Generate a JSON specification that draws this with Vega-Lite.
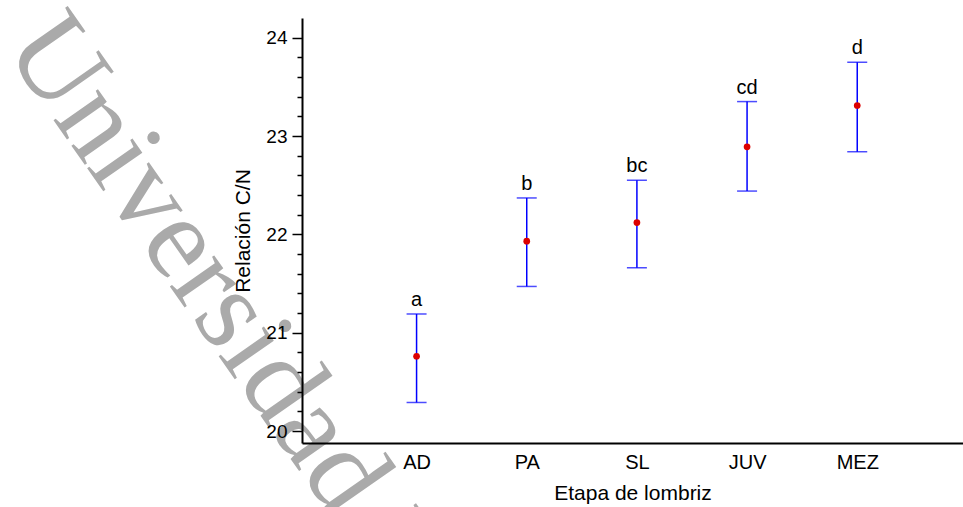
{
  "$schema": "https://vega.github.io/schema/vega-lite/v6.json",
  "autosize": {"type": "none"},
  "padding": {"left": 302, "top": 18, "right": 0, "bottom": 64},
  "width": 661,
  "height": 425,
  "background": "white",
  "title": {
    "text": "Universidad Nacional",
    "orient": "bottom",
    "anchor": "start",
    "frame": "group",
    "angle": 55,
    "align": "left",
    "baseline": "alphabetic",
    "offset": 0,
    "dx": -544,
    "dy": -16,
    "font": "Liberation Serif",
    "fontSize": 118,
    "fontWeight": "normal",
    "color": "#aaaaaa",
    "zindex": 0
  },
  "data": {
    "values": [
      {"etapa": "AD", "media": 20.76, "inf": 20.29, "sup": 21.19, "letra": "a"},
      {"etapa": "PA", "media": 21.93, "inf": 21.47, "sup": 22.37, "letra": "b"},
      {"etapa": "SL", "media": 22.12, "inf": 21.66, "sup": 22.55, "letra": "bc"},
      {"etapa": "JUV", "media": 22.89, "inf": 22.44, "sup": 23.35, "letra": "cd"},
      {"etapa": "MEZ", "media": 23.31, "inf": 22.84, "sup": 23.75, "letra": "d"}
    ]
  },
  "config": {
    "view": {"stroke": null},
    "axis": {
      "domainColor": "black",
      "domainWidth": 2,
      "labelFont": "Liberation Sans",
      "titleFont": "Liberation Sans",
      "labelColor": "black",
      "titleColor": "black",
      "titleFontWeight": "normal",
      "tickColor": "black",
      "grid": false,
      "zindex": 1
    }
  },
  "encoding": {
    "x": {
      "field": "etapa",
      "type": "ordinal",
      "sort": ["AD", "PA", "SL", "JUV", "MEZ"],
      "scale": {"type": "point", "padding": 1.155, "align": 0.52},
      "axis": {
        "title": "Etapa de lombriz",
        "labelAngle": 0,
        "ticks": false,
        "labelFontSize": 20,
        "labelPadding": 9,
        "titleFontSize": 21,
        "titlePadding": 10,
        "zindex": 1
      }
    }
  },
  "layer": [
    {
      "mark": {"type": "rule", "color": "#0000ff", "strokeWidth": 1.5},
      "encoding": {
        "y": {
          "field": "inf",
          "type": "quantitative",
          "scale": {"domain": [19.878, 24.2], "nice": false, "zero": false},
          "axis": {
            "title": "Relación C/N",
            "values": [20, 20.2, 20.4, 20.6, 20.8, 21, 21.2, 21.4, 21.6, 21.8, 22, 22.2, 22.4, 22.6, 22.8, 23, 23.2, 23.4, 23.6, 23.8, 24],
            "tickCount": 40,
            "labelExpr": "abs(round(datum.value) - datum.value) < 0.01 ? format(datum.value, 'd') : ''",
            "labelOverlap": false,
            "tickSize": {"condition": {"test": "abs(round(datum.value) - datum.value) < 0.01", "value": 10}, "value": 5},
            "tickWidth": 1.5,
            "labelFontSize": 19,
            "labelPadding": 5,
            "titleFontSize": 21,
            "titlePadding": 12,
            "zindex": 1
          }
        },
        "y2": {"field": "sup"}
      }
    },
    {
      "mark": {"type": "tick", "orient": "horizontal", "color": "#0000ff", "size": 20, "thickness": 1.5},
      "encoding": {"y": {"field": "inf", "type": "quantitative"}}
    },
    {
      "mark": {"type": "tick", "orient": "horizontal", "color": "#0000ff", "size": 20, "thickness": 1.5},
      "encoding": {"y": {"field": "sup", "type": "quantitative"}}
    },
    {
      "mark": {"type": "point", "filled": true, "color": "#dd0000", "size": 45, "opacity": 1},
      "encoding": {"y": {"field": "media", "type": "quantitative"}}
    },
    {
      "mark": {"type": "text", "baseline": "bottom", "dy": -4, "fontSize": 20, "font": "Liberation Sans", "color": "black"},
      "encoding": {
        "y": {"field": "sup", "type": "quantitative"},
        "text": {"field": "letra"}
      }
    }
  ]
}
